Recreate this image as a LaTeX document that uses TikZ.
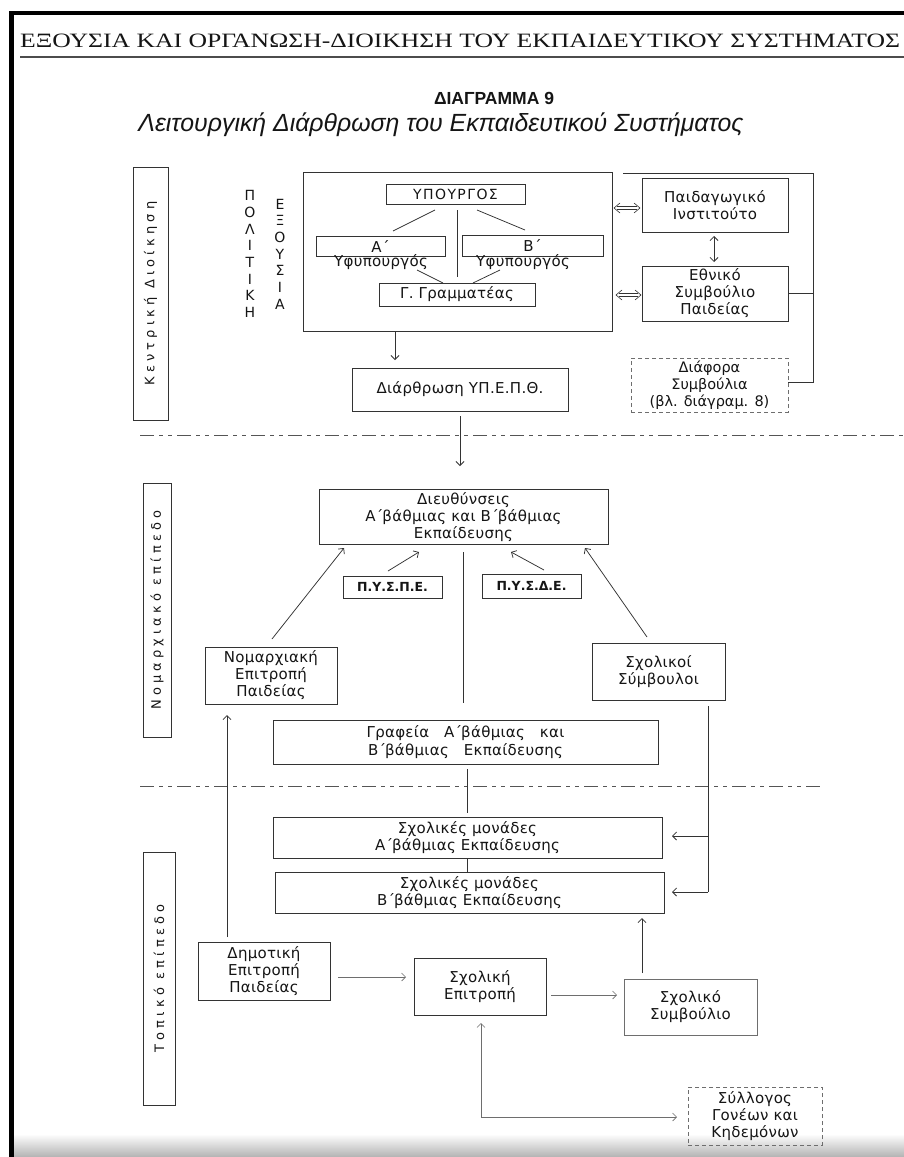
\documentclass[tikz,border=0pt]{standalone}
\usepackage{graphicx}
\usepackage{fontspec}
\setmainfont{Liberation Serif}
\newfontfamily\lab[LetterSpace=2]{DejaVu Sans}
\newfontfamily\labwide[LetterSpace=10]{DejaVu Sans}
\newfontfamily\vlab[LetterSpace=32]{DejaVu Sans}
\newfontfamily\plain{DejaVu Sans}
\newfontfamily\ttl{Liberation Sans}
\usetikzlibrary{arrows.meta,calc}
\definecolor{linec}{HTML}{333333}
\definecolor{txtc}{HTML}{151515}
\definecolor{sepc}{HTML}{555555}
\definecolor{lightc}{HTML}{6E6E6E}
\newcommand{\tn}{΄\kern-1pt}
\tikzset{
  box/.style={draw=linec, line width=0.75pt, inner sep=0pt, align=center, text=txtc,
    font=\lab\fontsize{15}{17}\selectfont},
  dbox/.style={box, dashed, dash pattern=on 4pt off 3pt, draw=lightc},
  fbox/.style={box, draw=lightc},
  vlbox/.style={draw=linec, line width=0.75pt, inner sep=0pt, text=txtc, rotate=90,
    font=\vlab\fontsize{13}{14}\selectfont},
  ln/.style={draw=linec, line width=0.75pt},
  arr/.style={ln, -{Straight Barb[length=4pt,width=8pt]}},
  larr/.style={draw=lightc, line width=0.6pt, -{Straight Barb[length=4pt,width=8pt]}},
  dshaft/.style={draw=linec, line width=0.5pt, double, double distance=2.4pt},
  sep/.style={draw=sepc, line width=0.9pt,
    dash pattern=on 14pt off 5pt on 4pt off 5pt on 4pt off 5pt},
  lbl/.style={inner sep=0pt, text=txtc, font=\lab\fontsize{15}{17}\selectfont},
  vtext/.style={inner sep=0pt, align=center, text=txtc, font=\plain\fontsize{14}{16.7}\selectfont}
}
\begin{document}
\begin{tikzpicture}[x=1pt,y=-1pt]
\useasboundingbox (0,0) rectangle (904,1157);
\fill[white] (0,0) rectangle (904,1157);
\shade[top color=white, bottom color=black!30] (14,1134) rectangle (904,1157);
% scan frame
\fill[black] (9,11) rectangle (14,1157);
\fill[black] (9,11) rectangle (904,15);

% header
\node[anchor=base west, inner sep=0pt, text=txtc, font=\fontsize{20}{24}\selectfont] (hdr) at (20,47)
  {\resizebox{880pt}{13.5pt}{ΕΞΟΥΣΙΑ ΚΑΙ ΟΡΓΑΝΩΣΗ-ΔΙΟΙΚΗΣΗ ΤΟΥ ΕΚΠΑΙΔΕΥΤΙΚΟΥ ΣΥΣΤΗΜΑΤΟΣ}};
\draw[draw=black!70, line width=1.2pt] (20,57) -- (904,57);
\node[inner sep=0pt, text=txtc, font=\ttl\bfseries\fontsize{17.5}{20}\selectfont] (dtitle) at (494,98) {ΔΙΑΓΡΑΜΜΑ 9};
\node[anchor=base, inner sep=0pt, text=txtc, font=\ttl\itshape\fontsize{22}{26}\selectfont] (subt) at (441,131)
  {\resizebox{605pt}{!}{Λειτουργική Διάρθρωση του Εκπαιδευτικού Συστήματος}};

% level labels
\node[vlbox, minimum width=253pt, minimum height=35pt] (L1) at (150.5,293.5) {Κεντρική Διοίκηση};
\node[vlbox, minimum width=254pt, minimum height=28pt] (L2) at (157,610) {Νομαρχιακό επίπεδο};
\node[vlbox, minimum width=253pt, minimum height=32pt] (L3) at (159,978.5) {Τοπικό επίπεδο};

% separators
\coordinate (s1a) at (140,435); \coordinate (s1b) at (904,435);
\coordinate (s2a) at (140,786); \coordinate (s2b) at (820,786);
\draw[sep] (s1a) -- (s1b);
\draw[sep] (s2a) -- (s2b);

% political power
\node[vtext] (polit) at (250,254) {Π\\Ο\\Λ\\Ι\\Τ\\Ι\\Κ\\Η};
\node[vtext] (exous) at (280,254) {Ε\\Ξ\\Ο\\Υ\\Σ\\Ι\\Α};

\node[box, minimum width=309pt, minimum height=159pt] (pol) at (457.5,251.5) {};
\node[box, minimum width=139pt, minimum height=20pt, font=\labwide\fontsize{14}{17}\selectfont] (ypo) at (455.5,194) {ΥΠΟΥΡΓΟΣ};
\node[box, minimum width=129pt, minimum height=20pt] (ya) at (380.5,246) {Α΄};
\node[box, minimum width=141pt, minimum height=21pt] (yb) at (532.5,245.5) {Β΄};
\node[lbl] (yat) at (381,262) {Υφυπουργός};
\node[lbl] (ybt) at (523,262) {Υφυπουργός};
\node[box, minimum width=156pt, minimum height=23pt] (gg) at (457,294.5) {Γ. Γραμματέας};

\coordinate (u1) at (435,210); \coordinate (u2) at (393,231);
\coordinate (u3) at (477,210); \coordinate (u4) at (525,230);
\coordinate (v1) at (457,210); \coordinate (v2) at (457,277);
\coordinate (g1) at (417,270); \coordinate (g2) at (443,283);
\coordinate (g3) at (500,270); \coordinate (g4) at (473,283);
\draw[ln] (u1) -- (u2);
\draw[ln] (u3) -- (u4);
\draw[ln] (v1) -- (v2);
\draw[ln] (g1) -- (g2);
\draw[ln] (g3) -- (g4);

% right column
\node[box, minimum width=146pt, minimum height=54pt] (paid) at (715,205) {Παιδαγωγικό\\Ινστιτούτο};
\node[box, minimum width=146pt, minimum height=55pt] (ethn) at (715,293.5) {Εθνικό\\Συμβούλιο\\Παιδείας};
\node[dbox, minimum width=157pt, minimum height=54pt, font=\plain\fontsize{14.5}{17}\selectfont] (diaf) at (709.5,385) {Διάφορα\\Συμβούλια\\(βλ. διάγραμ. 8)};

% hollow double arrows between the ministry box and the councils
\coordinate (pp1) at (614,208); \coordinate (pp2) at (640,208);
\coordinate (pe1) at (616,295); \coordinate (pe2) at (641,295);
\draw[dshaft] ($(pp1)+(3,0)$) -- ($(pp2)+(-3,0)$);
\draw[ln, line width=0.6pt] ($(pp1)+(6,-5)$) -- (pp1) -- ($(pp1)+(6,5)$);
\draw[ln, line width=0.6pt] ($(pp2)+(-6,-5)$) -- (pp2) -- ($(pp2)+(-6,5)$);
\draw[dshaft] ($(pe1)+(3,0)$) -- ($(pe2)+(-3,0)$);
\draw[ln, line width=0.6pt] ($(pe1)+(6,-5)$) -- (pe1) -- ($(pe1)+(6,5)$);
\draw[ln, line width=0.6pt] ($(pe2)+(-6,-5)$) -- (pe2) -- ($(pe2)+(-6,5)$);
\coordinate (ie1) at (714,236); \coordinate (ie2) at (714,262);
\draw[ln, {Straight Barb[length=4pt,width=8pt]}-{Straight Barb[length=4pt,width=8pt]}] (ie1) -- (ie2);

\coordinate (b1) at (623,173); \coordinate (b2) at (813,173); \coordinate (b3) at (813,382);
\draw[ln] (b1) -- (b2) -- (b3) -- (diaf.east |- b3);
\draw[ln] (ethn.east) -- (ethn.east -| b2);

% ministry structure
\node[box, minimum width=216pt, minimum height=43pt] (diar) at (460,389.5) {Διάρθρωση ΥΠ.Ε.Π.Θ.};
\coordinate (pa) at (395,360);
\draw[arr] (pol.south -| pa) -- (pa);
\coordinate (da1) at (460,416); \coordinate (da2) at (460,466);
\draw[arr] (da1) -- (da2);

% prefecture level
\node[box, minimum width=289pt, minimum height=55pt] (dieu) at (463.5,517) {Διευθύνσεις\\Α\tn βάθμιας και Β\tn βάθμιας\\Εκπαίδευσης};
\node[box, minimum width=99pt, minimum height=22pt, font=\plain\bfseries\fontsize{12.5}{14}\selectfont] (pyspe) at (392.5,587) {Π.Υ.Σ.Π.Ε.};
\node[box, minimum width=99pt, minimum height=24pt, font=\plain\bfseries\fontsize{12.5}{14}\selectfont] (pysde) at (531.5,586) {Π.Υ.Σ.Δ.Ε.};
\node[box, minimum width=132pt, minimum height=57pt] (nomep) at (271,675.5) {Νομαρχιακή\\Επιτροπή\\Παιδείας};
\node[box, minimum width=133pt, minimum height=57pt] (sxsymb) at (658.5,672) {Σχολικοί\\Σύμβουλοι};
\node[box, minimum width=385pt, minimum height=44pt, font=\lab\fontsize{15}{18}\selectfont] (graf) at (465.5,742)
  {Γραφεία\quad Α\tn βάθμιας\quad και\\Β\tn βάθμιας\quad Εκπαίδευσης};

\coordinate (pe_a) at (388,571); \coordinate (pe_b) at (419,552);
\coordinate (pd_a) at (544,570); \coordinate (pd_b) at (511,552);
\coordinate (na) at (272,639); \coordinate (nb) at (344,548);
\coordinate (sa) at (647,637); \coordinate (sb) at (585,548);
\draw[arr] (pe_a) -- (pe_b);
\draw[arr] (pd_a) -- (pd_b);
\draw[arr] (na) -- (nb);
\draw[arr] (sa) -- (sb);
\coordinate (c1) at (463,552); \coordinate (c2) at (463,703);
\draw[ln] (c1) -- (c2);

% local level
\node[box, minimum width=389pt, minimum height=41pt] (smA) at (467.5,837.5) {Σχολικές μονάδες\\Α\tn βάθμιας Εκπαίδευσης};
\node[box, minimum width=389pt, minimum height=41pt] (smB) at (469.5,892.5) {Σχολικές μονάδες\\Β\tn βάθμιας Εκπαίδευσης};
\coordinate (gl1) at (467,769); \coordinate (gl2) at (467,813);
\draw[ln] (gl1) -- (gl2);
\draw[ln] (smA.south -| gl1) -- (smB.north -| gl1);

\coordinate (rv1) at (708,706); \coordinate (rv2) at (708,892);
\coordinate (ra) at (708,836);
\coordinate (rat) at (672,836); \coordinate (rbt) at (672,892);
\draw[ln] (rv1) -- (rv2);
\draw[arr] (ra) -- (rat);
\draw[arr] (rv2) -- (rbt);

\node[box, minimum width=132pt, minimum height=58pt] (dim) at (264,971) {Δημοτική\\Επιτροπή\\Παιδείας};
\node[box, minimum width=132pt, minimum height=57pt] (sxep) at (480,986.5) {Σχολική\\Επιτροπή};
\node[fbox, minimum width=133pt, minimum height=56pt] (sxsyb) at (690.5,1007) {Σχολικό\\Συμβούλιο};
\node[dbox, minimum width=134pt, minimum height=58pt] (syl) at (755,1116) {Σύλλογος\\Γονέων και\\Κηδεμόνων};

\coordinate (dn1) at (227,937); \coordinate (dn2) at (227,715);
\draw[arr] (dn1) -- (dn2);
\coordinate (ds1) at (338,977); \coordinate (ds2) at (406,977);
\draw[larr] (ds1) -- (ds2);
\coordinate (ss1) at (551,995); \coordinate (ss2) at (617,995);
\draw[larr] (ss1) -- (ss2);
\coordinate (up1) at (642,973); \coordinate (up2) at (642,918);
\draw[arr] (up1) -- (up2);
\coordinate (pv1) at (481,1023); \coordinate (pv2) at (677,1117);
\draw[draw=lightc, line width=0.6pt, {Straight Barb[length=4pt,width=8pt]}-{Straight Barb[length=4pt,width=8pt]}] (pv1) |- (pv2);
\end{tikzpicture}
\end{document}
